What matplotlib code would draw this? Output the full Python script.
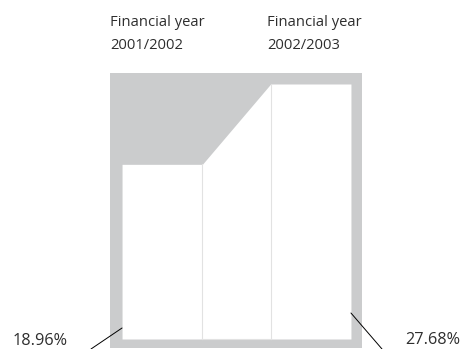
import matplotlib
matplotlib.use("Agg")
import matplotlib.pyplot as plt

# Data
years = ["Financial year\n2001/2002", "Financial year\n2002/2003"]
values = [18.96, 27.68]
labels = ["18.96%", "27.68%"]

GRAY = "#cbcccd"
LINE = "#e2e2e2"
TEXT = "#2e2e2e"

plt.rcParams['font.family'] = ['Open Sans', 'DejaVu Sans']

W, H = 468, 349
fig = plt.figure(figsize=(W / 100, H / 100), dpi=100)

# axes = the grey frame
left, right, top, bottom = 110, 362, 73, 348
ax = fig.add_axes([left / W, (H - bottom) / H, (right - left) / W, (bottom - top) / H])
ax.set_facecolor(GRAY)
for s in ax.spines.values():
    s.set_visible(False)
ax.set_xticks([])
ax.set_yticks([])

bar_w = 1.0
gap = 0.85
x0 = [0.0, bar_w + gap]
px_per_unit = 255 / values[1]
ax.set_xlim(-12 / 80, x0[1] + bar_w + 11 / 80)
ax.set_ylim(-9 / px_per_unit, values[1] + 11 / px_per_unit)

xs = [x0[0], x0[0] + bar_w, x0[1], x0[1] + bar_w]
ys = [values[0], values[0], values[1], values[1]]
ax.fill_between(xs, 0, ys, color="white", linewidth=0)
ax.plot([x0[0] + bar_w] * 2, [0, values[0]], color=LINE, lw=0.8)
ax.plot([x0[1]] * 2, [0, values[1]], color=LINE, lw=0.8)
ax.plot([x0[0] + bar_w, x0[1]], [0.05, 0.05], color=LINE, lw=0.8)

# titles
for xp, t in zip([110, 267], years):
    l1, l2 = t.split("\n")
    fig.text(xp / W, 1 - 26 / H, l1, ha="left", va="baseline",
             fontsize=10.6, color=TEXT)
    fig.text(xp / W, 1 - 49 / H, l2, ha="left", va="baseline",
             fontsize=10.6, color=TEXT)

# leader lines
ax.annotate("", xy=(x0[0], 11 / px_per_unit), xycoords="data",
            xytext=(91, H - 349), textcoords="figure pixels",
            arrowprops=dict(arrowstyle="-", color="black", lw=0.7,
                            shrinkA=0, shrinkB=0),
            annotation_clip=False)
ax.annotate("", xy=(x0[1] + bar_w, 26 / px_per_unit), xycoords="data",
            xytext=(382, H - 349), textcoords="figure pixels",
            arrowprops=dict(arrowstyle="-", color="black", lw=0.7,
                            shrinkA=0, shrinkB=0),
            annotation_clip=False)

fig.text(13 / W, 1 - 345 / H, labels[0], ha="left", va="baseline",
         fontsize=11.7, color=TEXT)
fig.text(405 / W, 1 - 344 / H, labels[1], ha="left", va="baseline",
         fontsize=11.7, color=TEXT)

fig.savefig("out.png", dpi=100)
